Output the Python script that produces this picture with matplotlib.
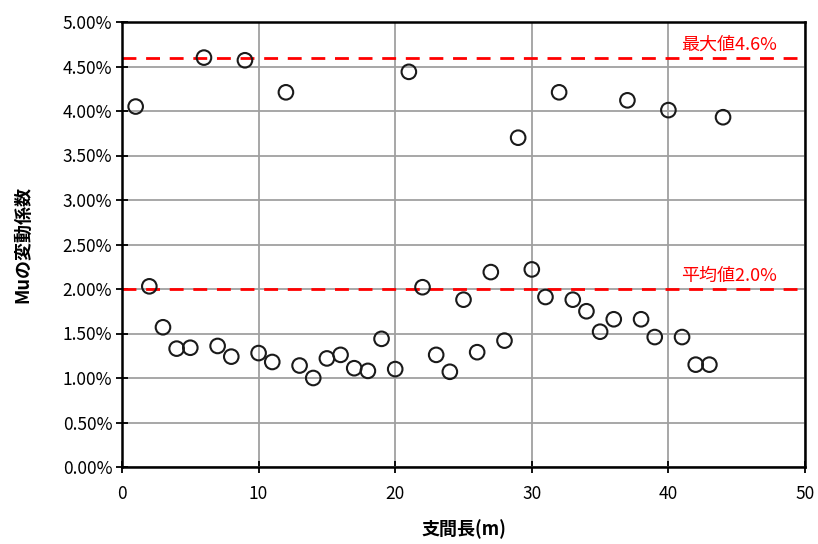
import matplotlib
matplotlib.use("Agg")
import matplotlib.pyplot as plt
from matplotlib.ticker import FuncFormatter

plt.rcParams['font.family'] = ['Noto Sans CJK JP', 'DejaVu Sans']

span_m = list(range(1, 45))
cv_pct = [4.05, 2.03, 1.57, 1.33, 1.34, 4.60, 1.36, 1.24, 4.57, 1.28,
          1.18, 4.21, 1.14, 1.00, 1.22, 1.26, 1.11, 1.08, 1.44, 1.10,
          4.44, 2.02, 1.26, 1.07, 1.88, 1.29, 2.19, 1.42, 3.70, 2.22,
          1.91, 4.21, 1.88, 1.75, 1.52, 1.66, 4.12, 1.66, 1.46, 4.01,
          1.46, 1.15, 1.15, 3.93]
max_val = 4.6
mean_val = 2.0
max_label = "最大値4.6%"
mean_label = "平均値2.0%"
x_label = "支間長(m)"
y_label = "Muの変動係数"
x_ticks = [0, 10, 20, 30, 40, 50]
y_ticks = [0.0, 0.5, 1.0, 1.5, 2.0, 2.5, 3.0, 3.5, 4.0, 4.5, 5.0]

fig = plt.figure(figsize=(8.18, 5.44), dpi=100)
ax = fig.add_axes([122/818, 1-467/544, (805-122)/818, (467-22)/544])

ax.set_xlim(0, 50)
ax.set_ylim(0, 5)
ax.set_xticks(x_ticks)
ax.set_yticks(y_ticks)
ax.yaxis.set_major_formatter(FuncFormatter(lambda v, p: f"{v:.2f}%"))
ax.grid(True, color='#a0a0a0', linewidth=1.3)
ax.set_axisbelow(True)

for s in ax.spines.values():
    s.set_linewidth(1.8)
    s.set_color('black')

ax.tick_params(axis='both', direction='inout', length=8, width=1.3,
               labelsize=12.5, colors='black')
ax.tick_params(axis='x', pad=9)
ax.tick_params(axis='y', pad=3)

ax.axhline(max_val, color='#ff0000', linestyle=(0, (5, 3.5)), linewidth=2.0, zorder=2)
ax.axhline(mean_val, color='#ff0000', linestyle=(0, (5, 3.5)), linewidth=2.0, zorder=2)

ax.scatter(span_m, cv_pct, s=110, facecolors='none', edgecolors='#1a1a1a',
           linewidths=1.5, zorder=3)

ax.text(47.95, max_val + 0.15, max_label, color='#ff0000', fontsize=13,
        ha='right', va='center')
ax.text(47.95, mean_val + 0.15, mean_label, color='#ff0000', fontsize=13,
        ha='right', va='center')

ax.set_xlabel(x_label, fontsize=13, fontweight='bold', labelpad=12)
ax.set_ylabel(y_label, fontsize=13, fontweight='bold', labelpad=22)

fig.savefig("out.png", dpi=100)
